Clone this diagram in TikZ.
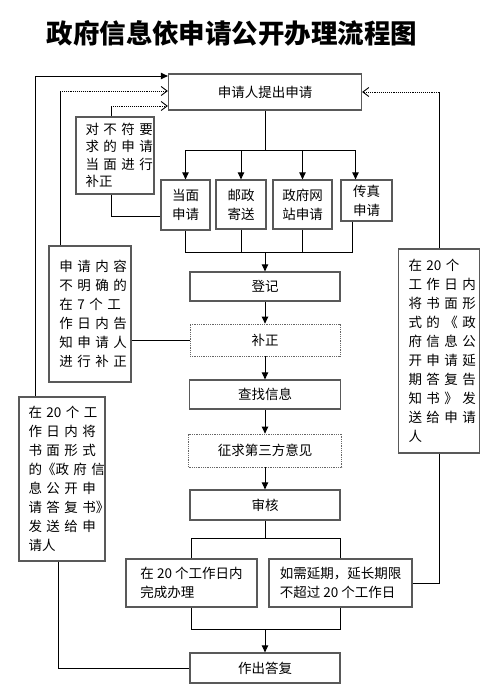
\documentclass[tikz,border=0pt]{standalone}
\usepackage{fontspec}
\setmainfont{Noto Sans CJK SC}
\usepackage{tikz}
\usetikzlibrary{arrows.meta}
\setlength{\parindent}{0pt}
\newcommand\jl[1]{\makebox[\hsize][s]{#1}}

\begin{document}
\begin{tikzpicture}[x=1pt, y=-1pt, line width=0.9pt,
  box/.style={draw=black!65, line width=1.3pt, shape=rectangle, inner sep=0pt, font=\fontsize{13.5}{19}\selectfont},
  dotbox/.style={box, draw=black!60, line width=0.8pt, densely dotted},
  side/.style={box, align=left, text width=61pt},
  arr/.style={-{Triangle[length=7pt, width=6.5pt]}},
  dotarr/.style={densely dotted, -{Straight Barb[length=6pt, width=9pt]}}]
\useasboundingbox (0,0) rectangle (492,697);
\node[font=\bfseries\fontsize{26.5}{30}\selectfont] (0) at (232,33) {政府信息依申请公开办理流程图};
\node[box, minimum width=193pt, minimum height=36pt] (1) at (265,92) {申请人提出申请};
\node[box, minimum width=49pt, minimum height=50pt, align=center] (2) at (185.5,205) {当面\\申请};
\node[box, minimum width=50pt, minimum height=49pt, align=center] (3) at (241,204.5) {邮政\\寄送};
\node[box, minimum width=59pt, minimum height=49pt, align=center] (4) at (302.5,204.5) {政府网\\站申请};
\node[box, minimum width=51pt, minimum height=41pt, align=center] (5) at (366.5,200.5) {传真\\申请};
\node[side, text width=59pt, minimum width=78pt, minimum height=77pt, font=\fontsize{13.5}{17.5}\selectfont] (6) at (115,155.5) {\jl{对 不 符 要}\\ \jl{求 的 申 请}\\ \jl{当 面 进 行}\\ 补正};
\node[box, minimum width=150pt, minimum height=29pt] (7) at (265,286.5) {登记};
\node[dotbox, minimum width=150pt, minimum height=32pt] (8) at (265,340) {补正};
\node[box, minimum width=151pt, minimum height=29pt] (9) at (265,394.5) {查找信息};
\node[dotbox, minimum width=153pt, minimum height=33pt] (10) at (265,450.5) {征求第三方意见};
\node[box, minimum width=150pt, minimum height=30pt] (11) at (265,505) {审核};
\node[box, minimum width=131pt, minimum height=48pt, align=left] (12) at (191.5,583) {在 20 个工作日内\\完成办理};
\node[box, minimum width=143pt, minimum height=48pt, align=left] (13) at (340.5,583) {如需延期，延长期限\\不超过 20 个工作日};
\node[box, minimum width=150pt, minimum height=30pt] (14) at (265,668) {作出答复};
\node[side, minimum width=82pt, minimum height=136pt] (15) at (90,314) {\jl{申 请 内 容}\\ \jl{不 明 确 的}\\ \jl{在 7 个 工}\\ \jl{作 日 内 告}\\ \jl{知 申 请 人}\\ \jl{进 行 补 正}};
\node[side, text width=67pt, minimum width=86pt, minimum height=164pt] (16) at (62,479) {\jl{在 20 个 工}\\ \jl{作 日 内 将}\\ \jl{书 面 形 式}\\ \jl{的《政 府 信}\\ \jl{息 公 开 申}\\ \jl{请 答 复 书》}\\ \jl{发 送 给 申}\\ 请人};
\node[side, minimum width=81pt, minimum height=204pt] (17) at (439,351) {\jl{在 20 个}\\ \jl{工 作 日 内}\\ \jl{将 书 面 形}\\ \jl{式 的 《 政}\\ \jl{府 信 息 公}\\ \jl{开 申 请 延}\\ \jl{期 答 复 告}\\ \jl{知 书 》 发}\\ \jl{送 给 申 请}\\ 人};
\coordinate (1a) at (265,150);
\coordinate (7a) at (265,252);
\coordinate (11a) at (265,538);
\coordinate (14a) at (265,629);
\coordinate (6a) at (111,106);
\coordinate (15a) at (60,91);
\coordinate (16a) at (35,76);
\coordinate (17a) at (439,92);
\draw (1) -- (1a);
\foreach \n in {2,3,4} \draw[arr] (1a) -| (\n);
\draw[arr] (1a) -| ([xshift=-11pt]5.north);
\foreach \n in {2,3,4} \draw (\n) |- (7a);
\draw ([xshift=-14pt]5.south) |- (7a);
\draw[arr] (7a) -- (7);
\foreach \a/\b in {7/8,8/9,9/10,10/11} \draw[arr] (\a) -- (\b);
\draw (11) -- (11a);
\draw (11a) -| (12);
\draw (11a) -| (13);
\draw (12) |- (14a);
\draw (13) |- (14a);
\draw[arr] (14a) -- (14);
\draw ([xshift=-4pt]6.north) -- (6a);
\draw[dotarr] (6a) -- (6a -| 1.west);
\draw ([xshift=-4pt]6.south) |- ([yshift=-11pt]2.west);
\draw ([xshift=-30pt]15.north) -- (15a);
\draw[dotarr] (15a) -- (15a -| 1.west);
\draw (15.east |- 8.west) -- (8.west);
\draw ([xshift=-27pt]16.north) -- (16a);
\draw[arr] (16a) -- (16a -| 1.west);
\draw ([xshift=-4pt]16.south) |- (14.west);
\draw (13.east) -| (17.south);
\draw (17.north) -- (17a);
\draw[dotarr] (17a) -- (1.east);
\end{tikzpicture}
\end{document}
